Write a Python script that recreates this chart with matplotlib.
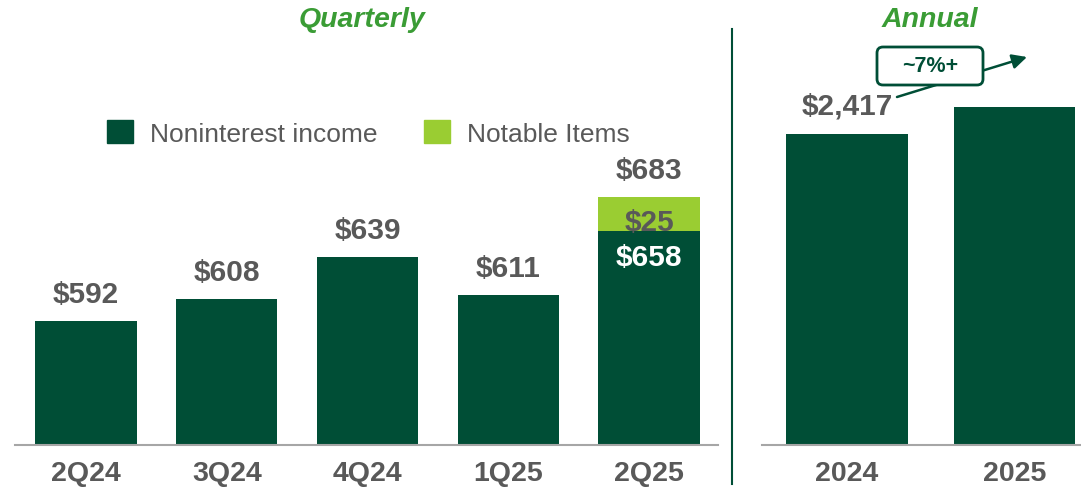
import matplotlib.pyplot as plt
from matplotlib.patches import FancyArrowPatch, FancyBboxPatch, Patch

plt.rcParams["font.family"] = ["Liberation Sans", "DejaVu Sans"]

quarters = ["2Q24", "3Q24", "4Q24", "1Q25", "2Q25"]
nonint_income = [592, 608, 639, 611, 658]
notable_items = [0, 0, 0, 0, 25]
years = ["2024", "2025"]
annual_income = [2417, 2630]

DARK = "#004E36"
LIGHT = "#9ACD32"
GREY = "#595959"
TITLE = "#3A9C35"
BASE = "#A6A6A6"

W, H = 1081, 489


def px_box(x0, y_top, x1, y_bot):
    return [x0 / W, 1 - y_bot / H, (x1 - x0) / W, (y_bot - y_top) / H]


def main():
    fig = plt.figure(figsize=(W / 100, H / 100), dpi=100)

    # quarterly panel
    ax = fig.add_axes(px_box(15, 0, 718, 446))
    xs = range(len(quarters))
    ax.bar(xs, nonint_income, width=0.72, color=DARK, zorder=2)
    ax.bar(xs, notable_items, bottom=nonint_income, width=0.72, color=LIGHT, zorder=2)
    ax.set_xlim(-0.505, 4.49)
    ax.set_ylim(501, 828.5)

    for i, (base, extra) in enumerate(zip(nonint_income, notable_items)):
        top = base + extra
        ax.annotate(f"${top}", (i, top), xytext=(0, 27), textcoords="offset pixels",
                    ha="center", va="center", fontsize=21.5, fontweight="bold", color=GREY)
        if extra:
            ax.annotate(f"${extra}", (i, top), xytext=(0, -25), textcoords="offset pixels",
                        ha="center", va="center", fontsize=21.5, fontweight="bold", color=GREY)
            ax.annotate(f"${base}", (i, base), xytext=(0, -26), textcoords="offset pixels",
                        ha="center", va="center", fontsize=21.5, fontweight="bold", color="white")

    # annual panel
    ax2 = fig.add_axes(px_box(762, 0, 1081, 446))
    ax2.bar(range(len(years)), annual_income, width=0.728, color=DARK, zorder=2)
    ax2.set_xlim(-0.507, 1.397)
    ax2.set_ylim(0, 3466)
    ax2.annotate(f"${annual_income[0]:,}", (0, annual_income[0]), xytext=(0, 28),
                 textcoords="offset pixels", ha="center", va="center",
                 fontsize=21.5, fontweight="bold", color=GREY)

    for a, labels in ((ax, quarters), (ax2, years)):
        a.set_xticks(range(len(labels)))
        a.set_xticklabels(labels, fontsize=20.5, fontweight="bold", color=GREY)
        a.tick_params(axis="x", length=0, pad=11)
        a.set_yticks([])
        for s in ("top", "left", "right"):
            a.spines[s].set_visible(False)
        a.spines["bottom"].set_color(BASE)
        a.spines["bottom"].set_linewidth(1.5)
        a.patch.set_alpha(0)

    handles = [Patch(color=DARK, label="Noninterest income"),
               Patch(color=LIGHT, label="Notable Items")]
    ax.legend(handles=handles, loc="center left", bbox_to_anchor=(107 / W, 1 - 134 / H),
              bbox_transform=fig.transFigure, ncol=2, frameon=False, fontsize=19,
              handlelength=0.98, handleheight=0.98, handletextpad=0.65, columnspacing=1.75,
              borderpad=0, borderaxespad=0, labelcolor=GREY)

    # overlay in pixel coordinates
    ov = fig.add_axes([0, 0, 1, 1])
    ov.set_xlim(0, W)
    ov.set_ylim(H, 0)
    ov.axis("off")
    ov.patch.set_alpha(0)

    ov.text(362, 20, "Quarterly", ha="center", va="center", fontsize=20.5,
            fontweight="bold", style="italic", color=TITLE)
    ov.text(930, 20, "Annual", ha="center", va="center", fontsize=20.5,
            fontweight="bold", style="italic", color=TITLE)
    ov.plot([732, 732], [30, 485], color=DARK, lw=1.5)

    ov.add_patch(FancyArrowPatch((897, 98), (1027, 58), arrowstyle="-|>",
                                 mutation_scale=22, lw=1.8, color=DARK, shrinkA=0, shrinkB=0))
    ov.add_patch(FancyBboxPatch((880, 51), 100, 32,
                                boxstyle="round,pad=3,rounding_size=6",
                                lw=2, ec=DARK, fc="white", zorder=3))
    ov.text(930, 67, "~7%+", ha="center", va="center", fontsize=15.5,
            fontweight="bold", color=DARK, zorder=4)

    fig.savefig("out.png", dpi=100)
    plt.close(fig)


if __name__ == "__main__":
    main()
